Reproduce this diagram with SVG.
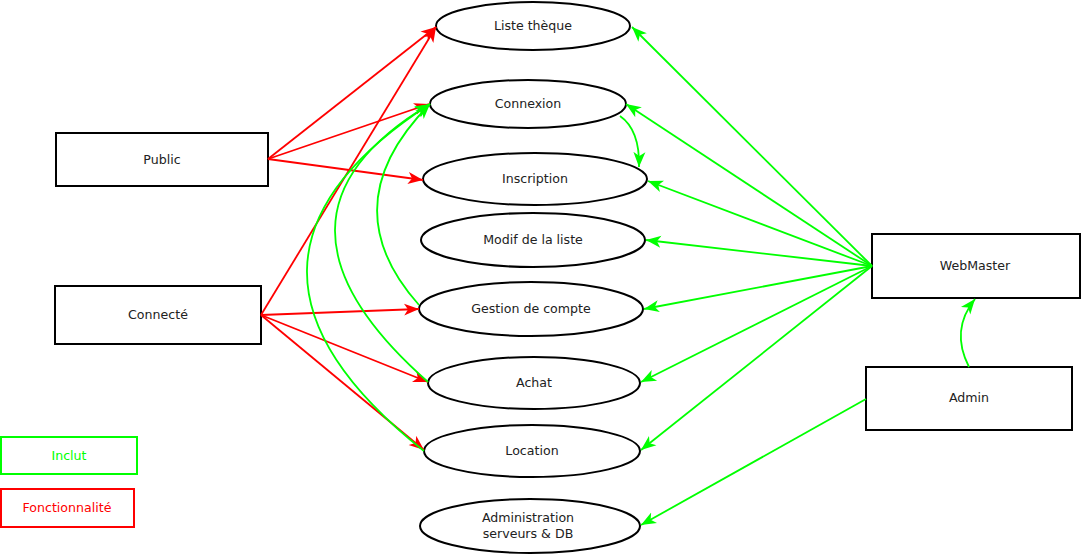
<svg xmlns="http://www.w3.org/2000/svg" width="1083" height="556" viewBox="0 0 1083 556">
<style>
.n{fill:#fff;stroke:#000;stroke-width:2}
.t{font-family:"DejaVu Sans",sans-serif;font-size:12.6px;fill:#222;text-anchor:middle}
.r{stroke:#ff0000;stroke-width:1.8;fill:none;marker-end:url(#ar)}
.g{stroke:#00ff00;stroke-width:1.8;fill:none;marker-end:url(#ag)}
</style>
<defs>
<marker id="ar" markerUnits="userSpaceOnUse" markerWidth="18" markerHeight="14" refX="15" refY="7" orient="auto"><path d="M0,1 L15,7 L0,13 L4,7 z" fill="#ff0000"/></marker>
<marker id="ag" markerUnits="userSpaceOnUse" markerWidth="18" markerHeight="14" refX="15" refY="7" orient="auto"><path d="M0,1 L15,7 L0,13 L4,7 z" fill="#00ff00"/></marker>
</defs>
<rect width="1083" height="556" fill="#fff"/>
<g id="n-liste"><ellipse class="n" cx="533" cy="26" rx="97" ry="24"/><text class="t" x="533" y="30">Liste thèque</text></g>
<g id="n-connexion"><ellipse class="n" cx="528" cy="104" rx="98" ry="24"/><text class="t" x="528" y="108">Connexion</text></g>
<g id="n-inscription"><ellipse class="n" cx="535" cy="179" rx="112" ry="26"/><text class="t" x="535" y="183">Inscription</text></g>
<g id="n-modif"><ellipse class="n" cx="533" cy="240" rx="112" ry="27"/><text class="t" x="533" y="244">Modif de la liste</text></g>
<g id="n-gestion"><ellipse class="n" cx="531" cy="309" rx="112" ry="27"/><text class="t" x="531" y="313">Gestion de compte</text></g>
<g id="n-achat"><ellipse class="n" cx="534" cy="383" rx="106" ry="26"/><text class="t" x="534" y="387">Achat</text></g>
<g id="n-location"><ellipse class="n" cx="532" cy="451" rx="108" ry="26"/><text class="t" x="532" y="455">Location</text></g>
<g id="n-admin-db"><ellipse class="n" cx="530" cy="526" rx="110" ry="27"/><text class="t" x="528" y="522">Administration</text><text class="t" x="528" y="538">serveurs &amp; DB</text></g>
<g id="n-public"><rect class="n" x="56" y="133" width="212" height="53"/><text class="t" x="162" y="164">Public</text></g>
<g id="n-connecte"><rect class="n" x="55" y="286" width="206" height="58"/><text class="t" x="158" y="319">Connecté</text></g>
<g id="n-webmaster"><rect class="n" x="872" y="234" width="208" height="64"/><text class="t" x="975" y="270">WebMaster</text></g>
<g id="n-admin"><rect class="n" x="866" y="367" width="206" height="63"/><text class="t" x="969" y="402">Admin</text></g>
<g id="legend-inclut"><rect x="1" y="437" width="136" height="37" fill="#fff" stroke="#00ff00" stroke-width="2"/><text class="t" x="69" y="460" style="fill:#00ff00">Inclut</text></g>
<g id="legend-fonct"><rect x="1" y="489" width="133" height="38" fill="#fff" stroke="#ff0000" stroke-width="2"/><text class="t" x="67" y="512" style="fill:#ff0000">Fonctionnalité</text></g>
<g id="connectors">
<path class="r" d="M268,159 L436,27"/>
<path class="r" d="M268,159 L429,104"/>
<path class="r" d="M268,159 L423,180"/>
<path class="r" d="M261,315 L436,27"/>
<path class="r" d="M261,315 L419,309"/>
<path class="r" d="M261,315 L428,382"/>
<path class="r" d="M261,315 L424,450"/>
<path class="g" d="M419,305 Q330,205 430,104"/>
<path class="g" d="M428,382 Q241,217 430,104"/>
<path class="g" d="M424,451 Q187,262 430,104"/>
<path class="g" d="M620,116 Q640,130 639,167"/>
<path class="g" d="M872,266 L632,27"/>
<path class="g" d="M872,266 L626,104"/>
<path class="g" d="M872,266 L648,181"/>
<path class="g" d="M872,266 L646,240"/>
<path class="g" d="M872,266 L644,309"/>
<path class="g" d="M872,266 L641,382"/>
<path class="g" d="M872,266 L641,450"/>
<path class="g" d="M969,367 Q950,330 975,299"/>
<path class="g" d="M866,399 L641,525"/>
</g>
</svg>
